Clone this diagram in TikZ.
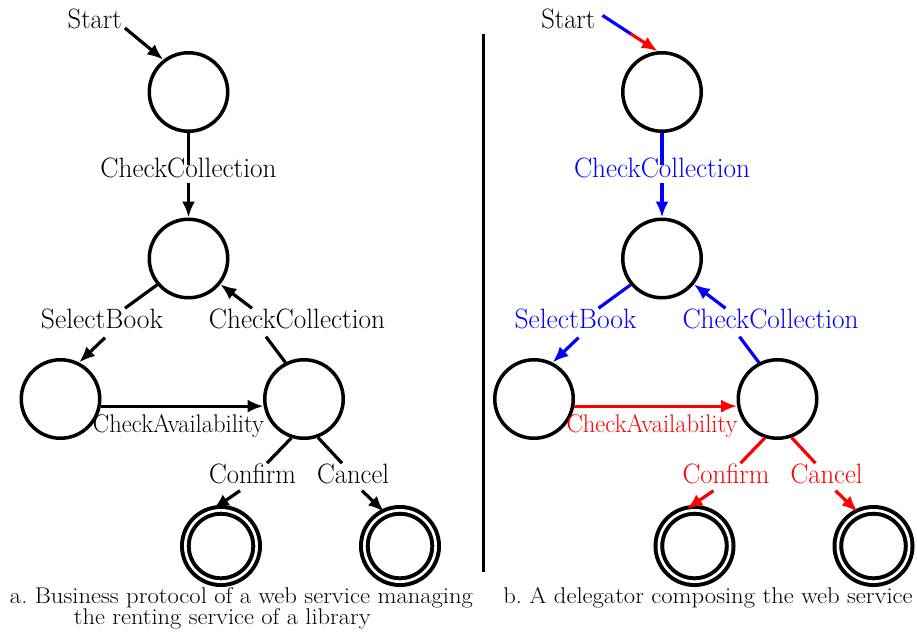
\documentclass[tikz,border=0pt]{standalone}
\usepackage{fontspec}
\usepackage{graphicx}
\usetikzlibrary{arrows.meta}
\newcommand\fw[2]{\resizebox{#1pt}{\height}{#2}}
\tikzset{
  state/.style={circle, draw, line width=3.5pt, minimum size=78.5pt, inner sep=0pt},
  final/.style={circle, draw, double, double distance=2.7pt, line width=4pt, minimum size=71.3pt, inner sep=0pt},
  lab/.style={inner sep=0pt, anchor=base, font=\fontsize{28}{30}\selectfont},
  small/.style={inner sep=0pt, anchor=base, font=\fontsize{25.5}{27}\selectfont},
  captxt/.style={inner sep=0pt, anchor=base, font=\fontsize{22.7}{25}\selectfont},
  edge/.style={line width=3.2pt},
  arr/.style={edge, -{Latex[length=16pt,width=13pt]}},
}
\begin{document}
\begin{tikzpicture}[x=1pt,y=-1pt]
\fill[white] (0,0) rectangle (917,632);
\useasboundingbox (0,0) rectangle (917,632);
% ---------- left panel ----------
\node[state] (c1) at (188.5,92) {};
\node[state] (c2) at (188.5,258.5) {};
\node[state] (c3) at (60.5,399) {};
\node[state] (c4) at (304,399) {};
\node[final] (f1) at (221,546) {};
\node[final] (f2) at (400,546) {};
\node[lab] (st) at (94.7,28) {\fw{54}{Start}};
\node[lab] (l1) at (188.5,177) {\fw{176}{CheckCollection}};
\node[lab] (l2) at (102,328) {\fw{122}{SelectBook}};
\node[lab] (l3) at (297,328) {\fw{176}{CheckCollection}};
\node[small] (l4) at (178.5,432) {\fw{171}{CheckAvailability}};
\node[lab] (l5) at (252.5,483) {\fw{87}{Confirm}};
\node[lab] (l6) at (353,483) {\fw{72}{Cancel}};
\draw[arr] ([xshift=3pt]st.base east) -- (c1.128);
\draw[edge] (c1.south) -- ([yshift=-8pt]l1.north);
\draw[arr] ([yshift=-5pt]l1.south) -- (c2.north);
\draw[edge] (c2.220) -- ([xshift=23pt]l2.north);
\draw[arr] ([xshift=3pt,yshift=-9pt]l2.south) -- (c3.63);
\draw[edge] (c4.117) -- ([xshift=-31pt,yshift=-8pt]l3.south);
\draw[arr] ([xshift=-45pt]l3.north) -- (c2.321);
\draw[arr] (c3.-10) -- (c4.190);
\draw[edge] (c4.252) -- ([xshift=14.5pt]l5.north);
\draw[arr] ([xshift=-12.5pt,yshift=-7pt]l5.south) -- (f1.102);
\draw[edge] (c4.290) -- ([xshift=-11pt]l6.north);
\draw[arr] ([xshift=9pt,yshift=-7pt]l6.south) -- (f2.115);
\node[captxt] (ca1) at (241.5,603) {\fw{463}{a.\ Business protocol of a web service managing}};
\node[captxt] (ca2) at (222.3,624) {\fw{296.7}{the renting service of a library}};
% ---------- separator ----------
\draw[line width=3pt] (483,34) -- (483,572);
% ---------- right panel ----------
\node[state] (Rc1) at (662,92) {};
\node[state] (Rc2) at (662,258.5) {};
\node[state] (Rc3) at (534,399) {};
\node[state] (Rc4) at (777.5,399) {};
\node[final] (Rf1) at (694.5,546) {};
\node[final] (Rf2) at (873.5,546) {};
\node[lab] (Rst) at (568.3,28) {\fw{54}{Start}};
\node[lab,blue] (Rl1) at (662,177) {\fw{176}{CheckCollection}};
\node[lab,blue] (Rl2) at (575.5,328) {\fw{122}{SelectBook}};
\node[lab,blue] (Rl3) at (770.5,328) {\fw{176}{CheckCollection}};
\node[small,red] (Rl4) at (652,432) {\fw{171}{CheckAvailability}};
\node[lab,red] (Rl5) at (726,483) {\fw{87}{Confirm}};
\node[lab,red] (Rl6) at (826.5,483) {\fw{72}{Cancel}};
\coordinate (Rm) at (631,34);
\draw[edge,blue] ([xshift=7pt,yshift=3pt]Rst.east) -- (Rm);
\draw[arr,red] (Rm) -- (Rc1.96);
\draw[edge,blue] (Rc1.south) -- ([yshift=-8pt]Rl1.north);
\draw[arr,blue] ([yshift=-5pt]Rl1.south) -- (Rc2.north);
\draw[edge,blue] (Rc2.220) -- ([xshift=23pt]Rl2.north);
\draw[arr,blue] ([xshift=3pt,yshift=-9pt]Rl2.south) -- (Rc3.63);
\draw[edge,blue] (Rc4.117) -- ([xshift=-31pt,yshift=-8pt]Rl3.south);
\draw[arr,blue] ([xshift=-45pt]Rl3.north) -- (Rc2.321);
\draw[arr,red] (Rc3.-10) -- (Rc4.190);
\draw[edge,red] (Rc4.252) -- ([xshift=14.5pt]Rl5.north);
\draw[arr,red] ([xshift=-12.5pt,yshift=-7pt]Rl5.south) -- (Rf1.102);
\draw[edge,red] (Rc4.290) -- ([xshift=-11pt]Rl6.north);
\draw[arr,red] ([xshift=9pt,yshift=-7pt]Rl6.south) -- (Rf2.115);
\node[captxt] (cb) at (708,603) {\fw{409.4}{b.\ A delegator composing the web service}};
\end{tikzpicture}
\end{document}
